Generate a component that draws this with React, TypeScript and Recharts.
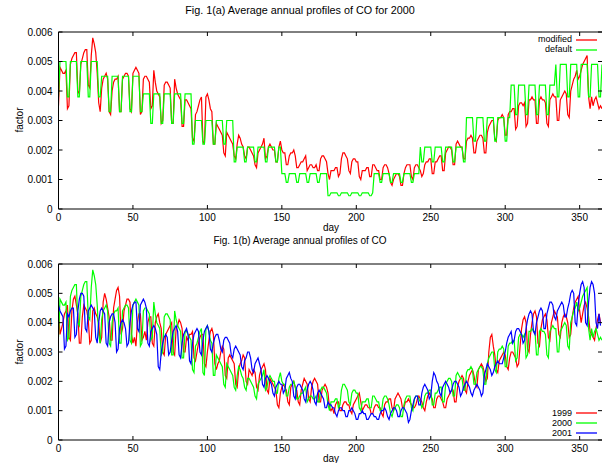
import React from 'react';
import { LineChart, Line, XAxis, YAxis } from 'recharts';

const FONT = '"Liberation Sans", Arial, Helvetica, sans-serif';
const SCALE = 10000; // stored values are in units of 0.0001

const titleA = 'Fig. 1(a) Average annual profiles of CO for 2000';
const titleB = 'Fig. 1(b) Average annual profiles of CO';
const xLabel = 'day';
const yLabel = 'factor';
const dayTicks = [0, 50, 100, 150, 200, 250, 300, 350];
const factorTicks = [0, 0.001, 0.002, 0.003, 0.004, 0.005, 0.006];
const legendA = [
  { key: 'modified', label: 'modified', color: '#ff0000' },
  { key: 'default', label: 'default', color: '#00ff00' },
];
const legendB = [
  { key: 'y1999', label: '1999', color: '#ff0000' },
  { key: 'y2000', label: '2000', color: '#00ff00' },
  { key: 'y2001', label: '2001', color: '#0000ff' },
];

// Fig 1(a) "modified" profile = 2000 curve of Fig 1(b)
const modified2000 = [35,
  48,47,46,46,47,34,35, 49,51,52,53,53,40,39, 49,51,53,54,54,42,41, 52,58,56,53,46,36,33,
  41,44,45,46,44,33,32, 40,43,44,44,45,33,33, 44,45,46,46,45,34,33, 46,47,48,47,46,32,33,
  44,45,45,44,43,34,35, 47,43,40,39,38,29,30, 42,43,43,42,41,29,29, 44,41,39,38,37,28,28,
  37,37,36,35,34,24,23, 32,33,35,37,38,23,22, 38,39,37,34,33,22,22, 29,28,27,26,25,19,18,
  26,25,24,23,22,18,17, 22,25,24,22,21,18,17, 21,21,20,19,18,15,14, 19,20,21,22,24,17,18,
  21,22,21,20,20,16,16, 21,23,20,19,19,15,15, 18,19,19,20,18,14,14, 15,16,16,17,18,13,14,
  15,15,14,14,15,13,13, 17,18,18,17,16,12,10, 13,13,13,14,14,11,12, 17,19,19,18,17,13,12,
  16,17,17,16,16,11,10, 13,13,13,14,14,11,11, 15,15,14,13,13,10,10, 14,15,15,14,12,9,8,
  10,11,12,12,11,8,8, 12,14,15,15,15,11,10, 14,15,15,14,13,11,12, 15,16,16,17,17,12,12,
  16,16,17,18,18,13,13, 19,20,21,21,20,15,15, 22,23,22,21,21,17,17, 23,24,24,25,24,19,19,
  23,24,25,25,24,19,19, 26,28,29,30,30,24,23, 30,31,31,32,31,25,25, 32,33,33,34,34,27,28,
  35,36,36,35,36,28,29, 37,37,38,37,37,29,29, 37,38,37,37,36,29,28, 37,38,39,38,38,30,30,
  37,38,39,40,39,32,31, 40,42,44,45,47,44,45, 47,49,50,51,52,38,34, 38,35,37,38,36,34,35,
  34];

const defaultProfile = [38,
  50,50,50,50,50,38,38, 50,50,50,50,50,38,38, 50,50,50,50,50,38,38, 50,50,50,50,50,38,38,
  45,45,45,45,45,33,33, 45,45,45,45,45,33,33, 45,45,45,45,45,33,33, 45,45,45,45,45,33,33,
  39,39,39,39,39,29,29, 39,39,39,39,39,29,29, 39,39,39,39,39,29,29, 39,39,39,39,39,29,29,
  39,39,39,39,39,22,22, 30,30,30,30,30,22,22, 30,30,30,30,30,22,22, 30,30,30,30,30,22,22,
  30,30,30,30,30,16,16, 21,21,21,21,21,16,16, 21,21,21,21,21,16,16, 21,21,21,21,21,16,16,
  21,21,21,21,21,16,16, 21,21,12,12,12,9,9, 12,12,12,12,12,9,9, 12,12,12,12,12,9,9,
  12,12,12,12,12,9,9, 12,12,12,12,12,4.5,4.5, 5.5,5.5,5.5,5.5,5.5,4.5,4.5, 5.5,5.5,5.5,5.5,5.5,4.5,4.5,
  5.5,5.5,5.5,5.5,5.5,4.5,4.5, 5.5,5.5,5.5,5.5,5.5,4.5,4.5, 5.5,12,12,12,12,9,9, 12,12,12,12,12,9,9,
  12,12,12,12,12,9,9, 12,12,12,12,12,9,9, 12,12,12,12,21,16,16, 21,21,21,21,21,16,16,
  21,21,21,21,21,16,16, 21,21,21,21,21,16,16, 21,21,21,21,21,16,16, 31,31,31,31,31,23,23,
  31,31,31,31,31,23,23, 31,31,31,31,31,23,23, 31,31,31,31,31,23,23, 31,31,42,42,42,32,32,
  42,42,42,42,42,32,32, 42,42,42,42,42,32,32, 42,42,42,42,42,32,32, 42,42,42,42,49,38,38,
  49,49,49,49,49,38,38, 49,49,49,49,49,38,38, 49,49,49,49,49,38,38, 49,49,49,49,49,38,38,
  49];

const co1999 = [45,36,
  38,40,43,44,46,35,34, 44,48,49,46,43,33,33, 42,46,45,44,41,33,34, 44,45,43,42,40,33,35,
  47,50,48,45,42,34,34, 45,48,51,52,49,36,38, 44,46,48,48,47,36,33, 35,32,40,43,43,34,35,
  37,34,40,42,42,33,32, 40,42,43,40,38,30,29, 36,37,38,39,40,30,29, 38,39,41,40,38,30,30,
  35,34,36,36,37,28,27, 30,33,35,36,36,26,25, 30,34,37,38,36,26,24, 26,27,30,32,31,22,21,
  28,29,28,27,26,19,18, 24,26,27,29,28,20,19, 24,23,22,24,23,18,17, 22,24,25,26,24,17,16,
  21,20,19,18,17,12,11, 16,18,19,18,17,13,12, 18,19,20,18,17,13,12, 17,19,21,20,19,14,13,
  18,20,21,20,19,13,13, 17,18,19,18,16,11,10, 11,9,12,13,13,10,10, 12,13,13,12,12,10,9,
  12,13,14,15,16,13,10, 11,12,12,11,11,9,9, 11,12,12,11,11,9,8, 12,13,13,14,14,11,10,
  14,15,16,15,14,11,11, 13,13,14,13,12,11,11, 12,14,15,14,13,11,10, 13,15,16,15,14,11,11,
  14,15,15,14,13,11,11, 14,15,16,17,17,13,13, 18,20,21,22,21,17,16, 20,22,23,24,22,19,18,
  24,25,26,25,23,20,21, 30,35,36,32,29,24,23, 27,28,29,30,29,25,24, 28,30,30,29,28,25,26,
  32,38,41,42,40,31,30, 36,40,43,44,42,33,32, 38,41,42,43,41,35,34, 40,42,44,43,42,36,35,
  40,42,43,42,40,35,36, 42,45,47,48,49,44,40, 43,46,47,45,42,37,36,
  35,34,38,41,43,40];

const co2001 = [46,44,43,42,31,32,
  43,42,44,45,45,35,36, 44,48,50,50,49,38,37, 44,45,46,45,44,35,33, 40,44,45,44,43,33,32,
  40,42,43,43,40,30,31, 38,40,41,40,38,32,33, 40,44,46,47,47,38,37, 46,47,48,47,45,33,32,
  37,38,39,38,36,25,24, 30,33,35,36,35,29,30, 34,37,38,39,37,29,28, 33,36,37,38,36,27,26,
  33,36,37,38,37,30,29, 34,37,38,39,37,31,30, 33,35,36,36,34,31,30, 34,35,35,34,33,29,28,
  31,32,31,30,29,25,24, 27,28,30,30,28,24,23, 26,27,28,26,24,19,18, 21,22,21,20,19,16,15,
  18,19,20,19,19,16,17, 21,22,23,21,20,15,14, 18,19,19,18,17,14,13, 17,19,20,19,17,13,12,
  16,17,16,15,14,11,11, 13,12,12,11,11,9,8, 10,11,11,10,10,8,8, 10,10,11,10,9,7,7,
  9,9,10,9,9,7,7, 8,9,9,8,8,7,7, 9,10,10,11,10,8,7, 9,10,11,11,10,8,8,
  10,11,11,10,9,6,7, 10,12,14,15,15,12,12, 16,18,19,18,17,14,15, 20,23,22,20,19,16,15,
  18,19,20,19,18,16,17, 19,20,20,19,18,15,16, 18,19,20,19,18,16,15, 17,18,19,18,17,15,16,
  22,24,26,25,24,22,23, 25,26,27,26,26,26,28, 30,33,35,36,37,33,34, 37,38,38,37,36,33,34,
  38,41,43,44,43,37,36, 40,42,44,45,44,38,38, 43,45,47,47,46,42,41, 44,45,46,47,46,42,42,
  45,47,50,51,50,40,39, 46,50,53,54,52,40,39, 47,52,54,53,50,40,38,
  43,39];

const rowsA = modified2000.map((v, i) => ({
  day: i,
  modified: v / SCALE,
  default: defaultProfile[i] / SCALE,
}));

const rowsB = modified2000.map((v, i) => ({
  day: i,
  y1999: i < co1999.length ? co1999[i] / SCALE : null,
  y2000: v / SCALE,
  y2001: i < co2001.length ? co2001[i] / SCALE : null,
}));

const axisStroke = { stroke: '#000', strokeWidth: 1 };
const tickText = { fontSize: 10, fill: '#000', fontFamily: FONT };
const emptyTick = () => <g />;
const fmtFactor = (v: number) => (v === 0 ? '0' : v.toFixed(3));

function axes() {
  return [
    <XAxis key="xb" dataKey="day" type="number" domain={[0, 365]} ticks={dayTicks} interval={0}
      height={23} tickSize={-4} tickMargin={9} axisLine={axisStroke} tickLine={axisStroke}
      tick={tickText} allowDataOverflow />,
    <XAxis key="xt" xAxisId="top" orientation="top" dataKey="day" type="number" domain={[0, 365]}
      ticks={dayTicks} interval={0} height={1} tickSize={-4} axisLine={axisStroke}
      tickLine={axisStroke} tick={emptyTick} allowDataOverflow />,
    <YAxis key="yl" type="number" domain={[0, 0.006]} ticks={factorTicks} interval={0} width={58}
      tickSize={-4} tickMargin={10} axisLine={axisStroke} tickLine={axisStroke} tick={tickText}
      tickFormatter={fmtFactor} allowDataOverflow />,
    <YAxis key="yr" yAxisId="right" orientation="right" type="number" domain={[0, 0.006]}
      ticks={factorTicks} interval={0} width={1} tickSize={-4} axisLine={false}
      tickLine={axisStroke} tick={emptyTick} allowDataOverflow />,
  ];
}

const LEGEND_STEP = 10;

function Legend({ items, top }: { items: { key: string; label: string; color: string }[]; top: number }) {
  return (
    <>
      {items.map((it, i) => (
        <div key={it.key} style={{ position: 'absolute', left: 0, top: top + i * LEGEND_STEP, width: 603, height: 0 }}>
          <div style={{ position: 'absolute', right: 603 - 572, top: -4.5, fontSize: 9, lineHeight: '9px',
            fontFamily: FONT, color: '#000', whiteSpace: 'nowrap' }}>{it.label}</div>
          <svg style={{ position: 'absolute', left: 576, top: -2 }} width={22} height={4}>
            <line x1={0} y1={2} x2={21} y2={2} stroke={it.color} strokeWidth={1.3} />
          </svg>
        </div>
      ))}
    </>
  );
}

function Label({ text, x, y, size, rotate }: { text: string; x: number; y: number; size: number; rotate?: boolean }) {
  return (
    <div style={{ position: 'absolute', left: x, top: y, fontSize: size, fontFamily: FONT, color: '#000',
      whiteSpace: 'nowrap', lineHeight: 1,
      transform: `translate(-50%, -50%)${rotate ? ' rotate(-90deg)' : ''}` }}>{text}</div>
  );
}

export default function App() {
  return (
    <div style={{ position: 'absolute', left: 0, top: 0, width: 603, height: 463, background: '#fff', overflow: 'hidden' }}>
      <div style={{ position: 'absolute', left: 0, top: 0 }}>
        <LineChart width={603} height={232} data={rowsA} margin={{ top: 31, right: 0, bottom: 0, left: 0.5 }}>
          {axes()}
          <Line type="linear" dataKey="modified" stroke="#ff0000" strokeWidth={1.2} dot={false} activeDot={false} isAnimationActive={false} />
          <Line type="linear" dataKey="default" stroke="#00ff00" strokeWidth={1.2} dot={false} activeDot={false} isAnimationActive={false} />
        </LineChart>
      </div>
      <div style={{ position: 'absolute', left: 0, top: 232 }}>
        <LineChart width={603} height={231} data={rowsB} margin={{ top: 31, right: 0, bottom: 0, left: 0.5 }}>
          {axes()}
          <Line type="linear" dataKey="y1999" stroke="#ff0000" strokeWidth={1.2} dot={false} activeDot={false} isAnimationActive={false} />
          <Line type="linear" dataKey="y2000" stroke="#00ff00" strokeWidth={1.2} dot={false} activeDot={false} isAnimationActive={false} />
          <Line type="linear" dataKey="y2001" stroke="#0000ff" strokeWidth={1.2} dot={false} activeDot={false} isAnimationActive={false} />
        </LineChart>
      </div>
      <Label text={titleA} x={300} y={10} size={10.8} />
      <Label text={titleB} x={300} y={241} size={10} />
      <Label text={xLabel} x={331} y={228} size={10} />
      <Label text={xLabel} x={331} y={459} size={10} />
      <Label text={yLabel} x={20} y={120} size={10} rotate />
      <Label text={yLabel} x={20} y={352} size={10} rotate />
      <Legend items={legendA} top={39.5} />
      <Legend items={legendB} top={413} />
    </div>
  );
}
